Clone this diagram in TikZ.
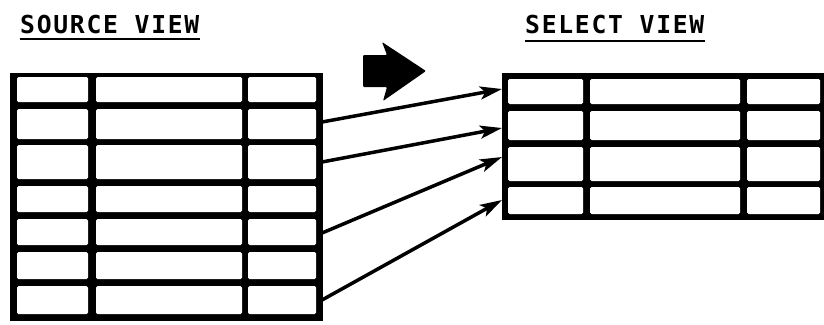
\documentclass[tikz,border=0pt]{standalone}
\usepackage{fontspec}
\newfontfamily\plotfont{DejaVu Sans Mono}[LetterSpace=7]
\usetikzlibrary{arrows.meta}
\begin{document}
\begin{tikzpicture}[x=1pt,y=-1pt,
  tablebg/.style={fill=black, inner sep=0pt, anchor=north west},
  cell/.style={fill=white, rounded corners=1.5pt},
  link/.style={line width=3.5pt, -{Stealth[length=22pt,width=13pt,inset=5pt]}},
  title/.style={font=\plotfont\bfseries\fontsize{24.7}{28}\selectfont, inner sep=0pt, anchor=base west},
  uline/.style={line width=2pt},
  bigarrow/.style={fill=black, rounded corners=1pt}]
\useasboundingbox (0,0) rectangle (824,324);
% titles
\node[title] (srct) at (20,33) {SOURCE VIEW};
\draw[uline] ([yshift=-6pt]srct.base west) -- ([yshift=-6pt]srct.base east);
\node[title] (selt) at (525,33) {SELECT VIEW};
\draw[uline] ([yshift=-8pt]selt.base west) -- ([yshift=-8pt]selt.base east);
% source table
\node[tablebg, minimum width=313pt, minimum height=248pt] (src) at (10,73) {};
\foreach \t/\b in {77/102,109/139,145/179,186/212,219/245,252/279,286/314}
  \foreach \l/\r in {17/88,96/242,248/316}
    \path[cell] (\l,\t) rectangle (\r,\b);
% select table
\node[tablebg, minimum width=323pt, minimum height=147pt] (sel) at (502,73) {};
\foreach \t/\b in {79/104,111/140,147/181,187/214}
  \foreach \l/\r in {508/583,590/740,747/820}
    \path[cell] (\l,\t) rectangle (\r,\b);
% connector ends
\coordinate (s1) at (322,122);
\coordinate (s2) at (322,162);
\coordinate (s3) at (322,233);
\coordinate (s4) at (322,300);
\coordinate (e1) at (502,89);
\coordinate (e2) at (502,128);
\coordinate (e3) at (502,157);
\coordinate (e4) at (502,200);
\draw[link] (s1) -- (e1);
\draw[link] (s2) -- (e2);
\draw[link] (s3) -- (e3);
\draw[link] (s4) -- (e4);
% big arrow
\path[bigarrow] (363,55) -- (387,55) -- (382,42) -- (426,71) -- (383,101) -- (387,87) -- (363,87) -- cycle;
\end{tikzpicture}
\end{document}
